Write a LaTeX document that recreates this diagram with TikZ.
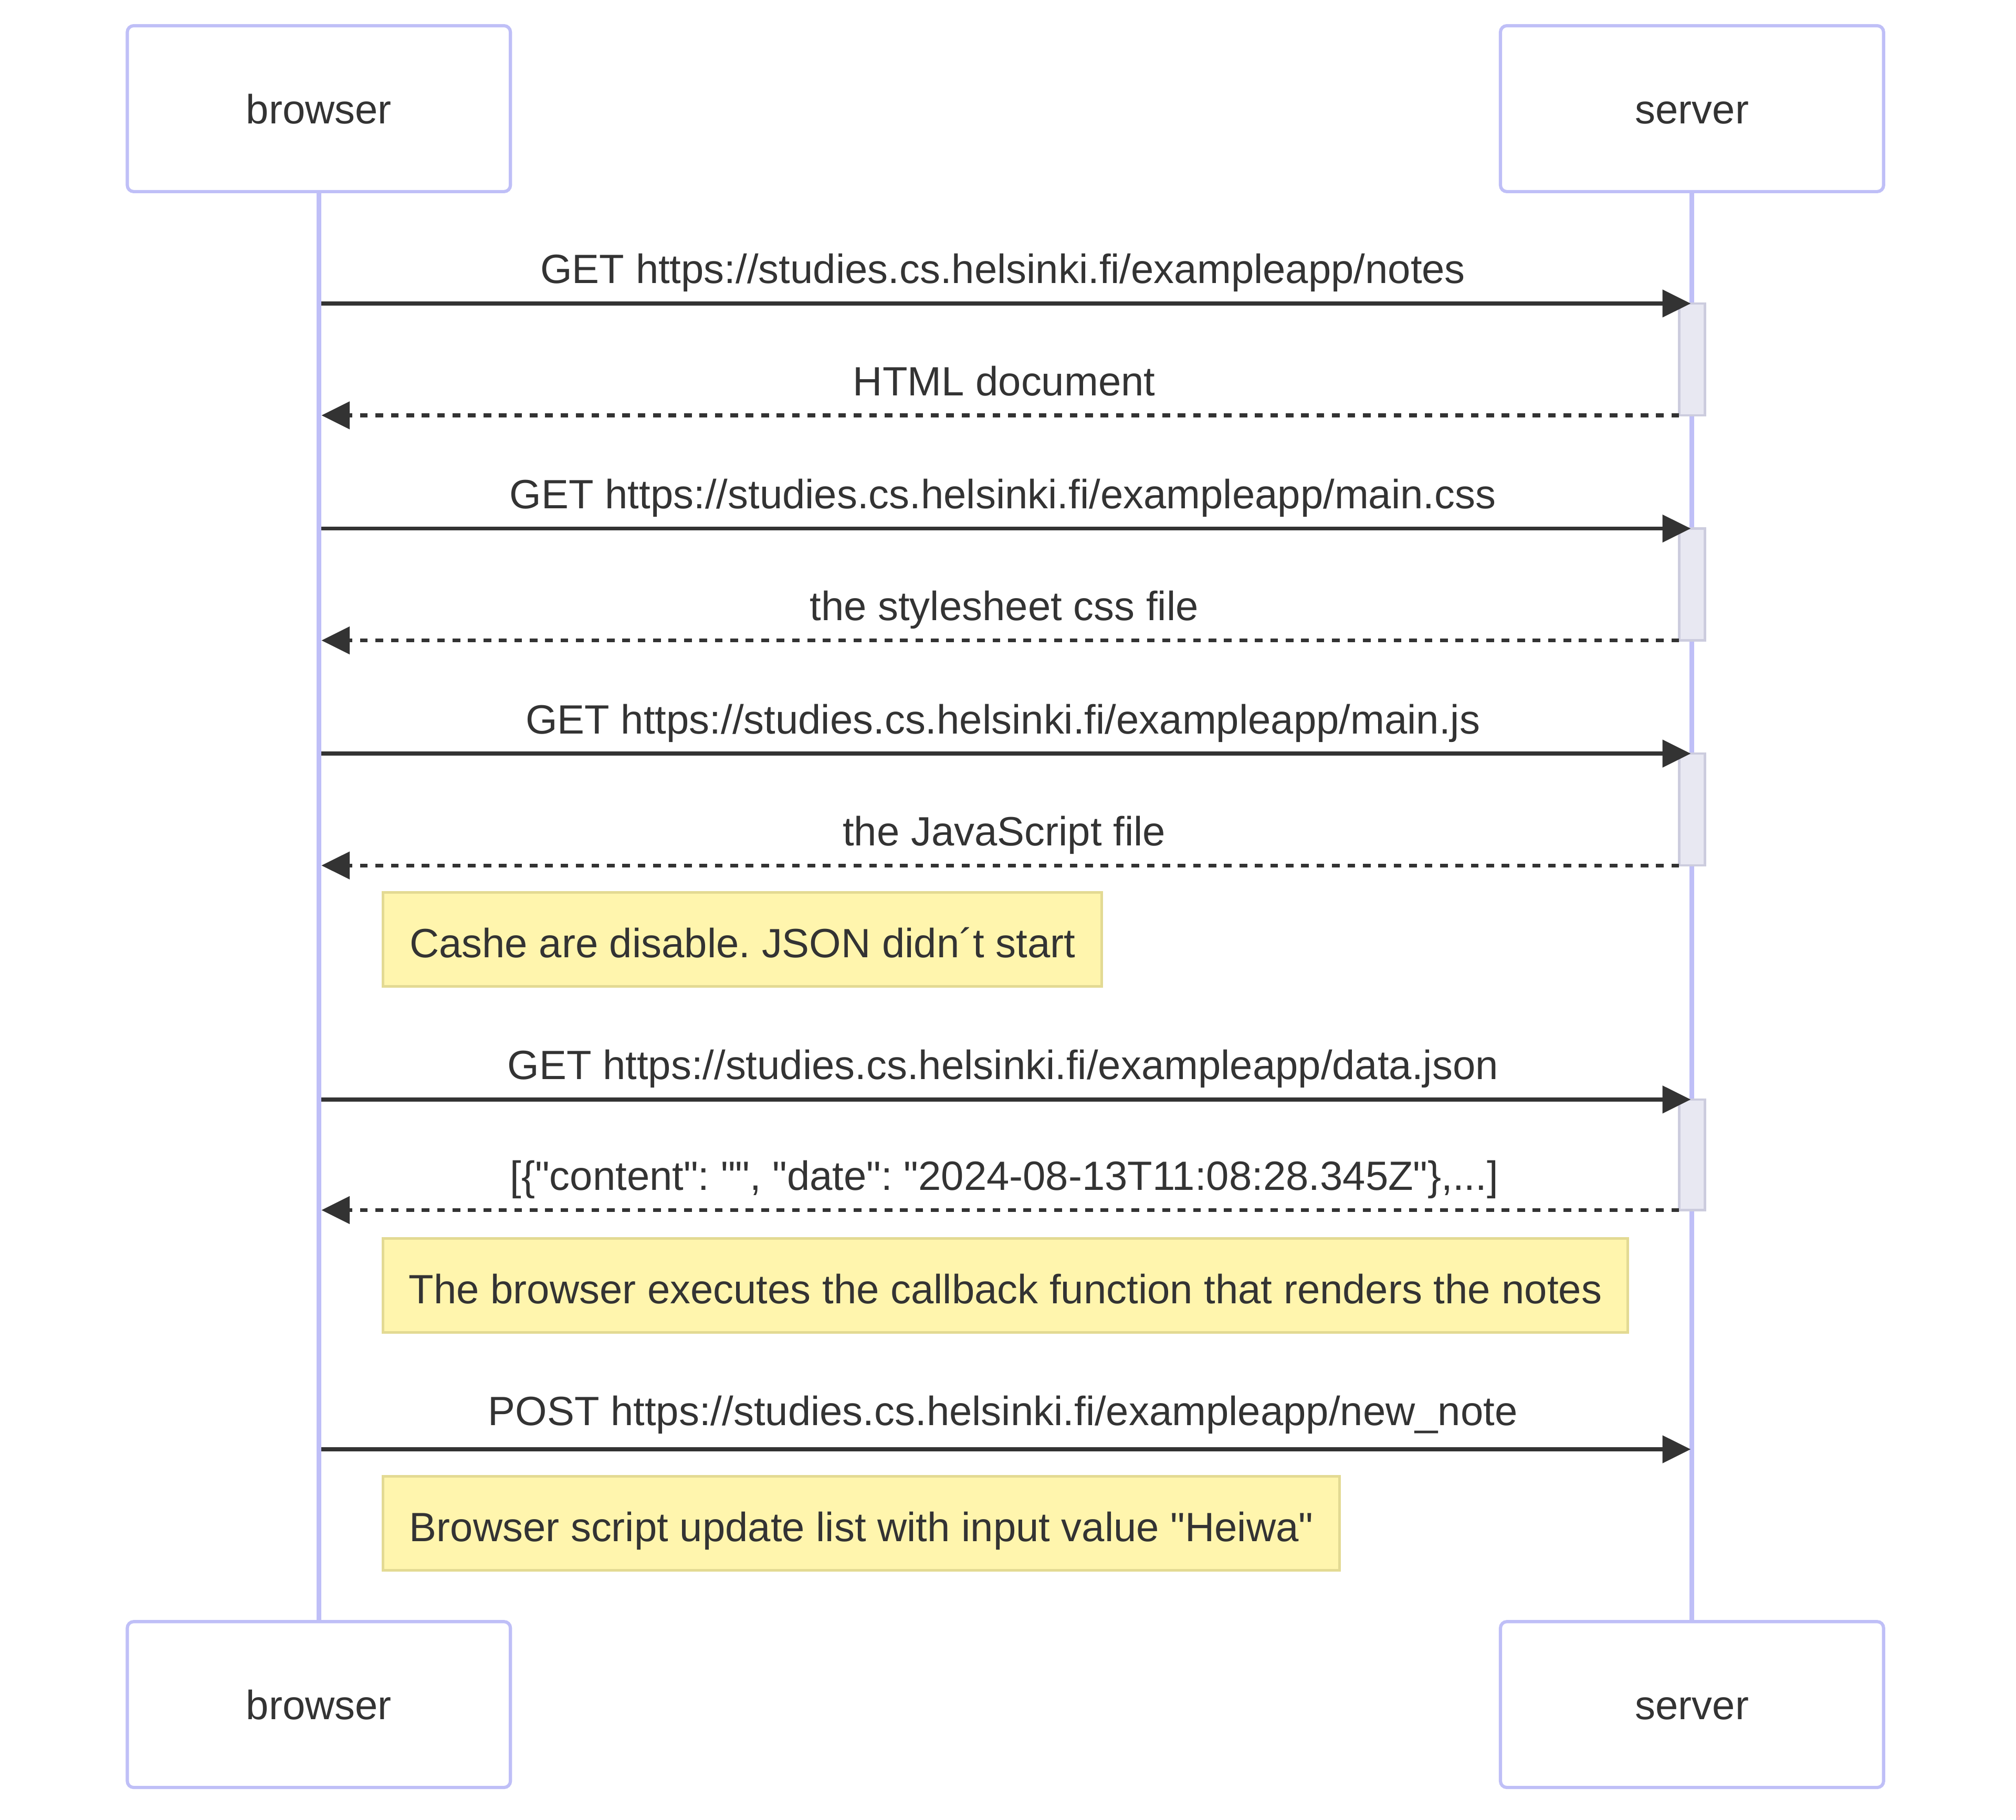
\documentclass[tikz,border=0pt]{standalone}
\usepackage{fontspec}
% plain family: keeps straight quotes as typed
\newfontfamily\labelfont{Liberation Sans}
\usetikzlibrary{arrows.meta}
\definecolor{ink}{HTML}{333333}
\definecolor{lane}{HTML}{BFBFF7}
\definecolor{actfill}{HTML}{E8E8F2}
\definecolor{actline}{HTML}{CCCCDE}
\definecolor{notefill}{HTML}{FFF5AD}
\definecolor{noteline}{HTML}{E3DA93}
\frenchspacing

\begin{document}
\begin{tikzpicture}[x=1pt,y=-1pt,
  font=\labelfont\fontsize{31.8}{38}\selectfont, text=ink,
  actor/.style={draw=lane, line width=2.5pt, fill=white, rounded corners=5pt,
    minimum width=298pt, minimum height=129pt, inner sep=0pt, outer sep=0pt,
    text height=23pt, text depth=0pt},
  lifeline/.style={draw=lane, line width=3.6pt},
  activation/.style={draw=actline, fill=actfill, line width=1.8pt,
    minimum width=20pt, inner sep=0pt, outer sep=0pt, anchor=north},
  msg/.style={draw=ink, line width=3pt, -{Triangle[length=22pt,width=21pt]}},
  reply/.style={msg, dash pattern=on 6pt off 6pt},
  msglabel/.style={anchor=base, inner sep=0pt},
  notebox/.style={draw=noteline, fill=notefill, line width=2pt, anchor=north west,
    minimum height=73pt, inner sep=0pt, outer sep=0pt, text height=28pt, text depth=0pt},
]
\useasboundingbox (0,0) rectangle (1568,1415);

% participants, top and bottom
\node[actor] (bTop) at (248,84.5) {browser};
\node[actor] (sTop) at (1316,84.5) {server};
\node[actor] (bBot) at (248,1325.5) {browser};
\node[actor] (sBot) at (1316,1325.5) {server};

% lifelines
\draw[lifeline] (bTop.south) -- (bBot.north);
\draw[lifeline] (sTop.south) -- (sBot.north);

% server activations
\node[activation, minimum height=87pt] (act1) at (1316,236) {};
\node[activation, minimum height=87pt] (act2) at (1316,411) {};
\node[activation, minimum height=87pt] (act3) at (1316,586) {};
\node[activation, minimum height=86pt] (act4) at (1316,855) {};

% message end points on the lifelines
\coordinate (b1) at (250,236);  \coordinate (s1) at (1315,236);
\coordinate (b2) at (250,323);
\coordinate (b3) at (250,411);  \coordinate (s3) at (1315,411);
\coordinate (b4) at (250,498);
\coordinate (b5) at (250,586);  \coordinate (s5) at (1315,586);
\coordinate (b6) at (250,673);
\coordinate (b7) at (250,855);  \coordinate (s7) at (1315,855);
\coordinate (b8) at (250,941);
\coordinate (b9) at (250,1127); \coordinate (s9) at (1315,1127);

% requests and replies
\draw[msg] (b1) -- (s1);
\node[msglabel] (m1) at (780,220.5) {GET https://studies.cs.helsinki.fi/exampleapp/notes};
\draw[reply] (act1.south west) -- (b2);
\node[msglabel] (m2) at (781,307.5) {HTML document};

\draw[msg] (b3) -- (s3);
\node[msglabel] (m3) at (780,395.5) {GET https://studies.cs.helsinki.fi/exampleapp/main.css};
\draw[reply] (act2.south west) -- (b4);
\node[msglabel] (m4) at (781,482.5) {the stylesheet css file};

\draw[msg] (b5) -- (s5);
\node[msglabel] (m5) at (780,570.5) {GET https://studies.cs.helsinki.fi/exampleapp/main.js};
\draw[reply] (act3.south west) -- (b6);
\node[msglabel] (m6) at (781,657.5) {the JavaScript file};

\node[notebox, minimum width=559pt] (n1) at (298,694) {Cashe are disable. JSON didn´t start};

\draw[msg] (b7) -- (s7);
\node[msglabel] (m7) at (780,839.5) {GET https://studies.cs.helsinki.fi/exampleapp/data.json};
\draw[reply] (act4.south west) -- (b8);
\node[msglabel] (m8) at (781,925.5) {[\{"content": "", "date": "2024-08-13T11:08:28.345Z"\},...]};

\node[notebox, minimum width=968pt] (n2) at (298,963) {The browser executes the callback function that renders the notes};

\draw[msg] (b9) -- (s9);
\node[msglabel] (m9) at (780,1108.5) {POST https://studies.cs.helsinki.fi/exampleapp/new\_note};

\node[notebox, minimum width=744pt] (n3) at (298,1148) {Browser script update list with input value "Heiwa"};
\end{tikzpicture}
\end{document}
